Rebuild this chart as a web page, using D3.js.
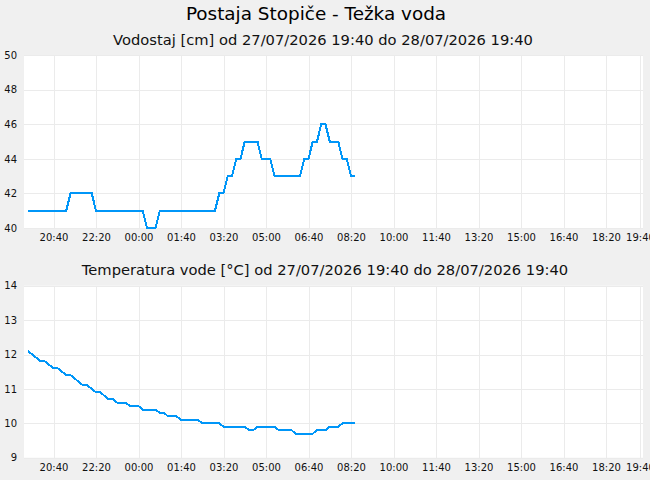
<!DOCTYPE html>
<html>
<head>
<meta charset="utf-8">
<script src="https://cdn.jsdelivr.net/npm/d3@7"></script>
<style>
  body { margin: 0; background: #f0f0f0; }
  svg { display: block; font-family: "DejaVu Sans", sans-serif; }
  .grid line { stroke: #ebebeb; stroke-width: 1; shape-rendering: crispEdges; }
  .axis text { fill: #111; font-size: 10px; }
</style>
</head>
<body>
<svg id="chart" width="650" height="480"></svg>
<script>
var stationTitle = "Postaja Stopiče - Težka voda";
var levelTitle = "Vodostaj [cm] od 27/07/2026 19:40 do 28/07/2026 19:40";
var tempTitle = "Temperatura vode [°C] od 27/07/2026 19:40 do 28/07/2026 19:40";

var startTime = "2026-07-27 19:40";
var endTime = "2026-07-28 19:40";
var stepMinutes = 10; // one reading every 10 minutes

// water level [cm]
var levelValues = [
  41, 41, 41, 41, 41, 41, 41, 41, 41, 41,
  42, 42, 42, 42, 42, 42,
  41, 41, 41, 41, 41, 41, 41, 41, 41, 41, 41, 41,
  40, 40, 40,
  41, 41, 41, 41, 41, 41, 41, 41, 41, 41, 41, 41, 41, 41,
  42, 42, 43, 43, 44, 44, 45, 45, 45, 45,
  44, 44, 44,
  43, 43, 43, 43, 43, 43, 43,
  44, 44, 45, 45, 46, 46, 45, 45, 45, 44, 44, 43, 43
];

// water temperature [°C]
var tempValues = [
  12.1, 12.0, 11.9, 11.8, 11.8, 11.7, 11.6, 11.6, 11.5, 11.4,
  11.4, 11.3, 11.2, 11.1, 11.1, 11.0, 10.9, 10.9, 10.8, 10.7,
  10.7, 10.6, 10.6, 10.6, 10.5, 10.5, 10.5, 10.4, 10.4, 10.4,
  10.4, 10.3, 10.3, 10.2, 10.2, 10.2, 10.1, 10.1, 10.1, 10.1,
  10.1, 10.0, 10.0, 10.0, 10.0, 10.0, 9.9, 9.9, 9.9, 9.9,
  9.9, 9.9, 9.8, 9.8, 9.9, 9.9, 9.9, 9.9, 9.9, 9.8,
  9.8, 9.8, 9.8, 9.7, 9.7, 9.7, 9.7, 9.7, 9.8, 9.8,
  9.8, 9.9, 9.9, 9.9, 10.0, 10.0, 10.0, 10.0
];

var levelTicks = [40, 42, 44, 46, 48, 50];
var tempTicks = [9, 10, 11, 12, 13, 14];
var timeTicks = [
  "2026-07-27 20:40", "2026-07-27 22:20", "2026-07-28 00:00", "2026-07-28 01:40",
  "2026-07-28 03:20", "2026-07-28 05:00", "2026-07-28 06:40", "2026-07-28 08:20",
  "2026-07-28 10:00", "2026-07-28 11:40", "2026-07-28 13:20", "2026-07-28 15:00",
  "2026-07-28 16:40", "2026-07-28 18:20", "2026-07-28 19:40"
];

var parse = d3.timeParse("%Y-%m-%d %H:%M");
var t0 = parse(startTime);
var tickDates = timeTicks.map(parse);

var svg = d3.select("#chart");

var x = d3.scaleTime()
  .domain([t0, parse(endTime)])
  .range([28, 640]);

function timeAt(i) {
  return d3.timeMinute.offset(t0, i * stepMinutes);
}

svg.append("text")
  .attr("x", 316).attr("y", 20)
  .attr("text-anchor", "middle")
  .style("font-size", "18.4px")
  .text(stationTitle);

function drawPanel(title, titleX, titleY, top, bottom, values, yTicks) {
  var left = 24, right = 643;
  var y = d3.scaleLinear()
    .domain([yTicks[0], yTicks[yTicks.length - 1]])
    .range([bottom, top]);

  svg.append("text")
    .attr("x", titleX).attr("y", titleY)
    .attr("text-anchor", "middle")
    .style("font-size", "14.7px")
    .style("fill", "#111")
    .text(title);

  svg.append("rect")
    .attr("x", left).attr("y", top)
    .attr("width", right - left).attr("height", bottom - top)
    .attr("fill", "#fff");

  // grid
  svg.append("g")
    .attr("class", "grid")
    .attr("transform", "translate(0," + bottom + ")")
    .call(d3.axisBottom(x).tickValues(tickDates).tickSize(-(bottom - top)).tickFormat(""))
    .call(function(g) { g.select(".domain").remove(); });

  svg.append("g")
    .attr("class", "grid")
    .attr("transform", "translate(" + left + ",0)")
    .call(d3.axisLeft(y).tickValues(yTicks).tickSize(-(right - left)).tickFormat(""))
    .call(function(g) { g.select(".domain").remove(); });

  // axes labels
  svg.append("g")
    .attr("class", "axis")
    .attr("transform", "translate(0," + bottom + ")")
    .call(d3.axisBottom(x).tickValues(tickDates).tickSize(0).tickPadding(6)
      .tickFormat(d3.timeFormat("%H:%M")))
    .call(function(g) { g.select(".domain").remove(); })
    .attr("font-family", null).attr("font-size", null);

  svg.append("g")
    .attr("class", "axis")
    .attr("transform", "translate(" + left + ",0)")
    .call(d3.axisLeft(y).tickValues(yTicks).tickSize(0).tickPadding(7).tickFormat(d3.format("d")))
    .call(function(g) { g.select(".domain").remove(); })
    .attr("font-family", null).attr("font-size", null);

  var line = d3.line()
    .x(function(d, i) { return x(timeAt(i)); })
    .y(function(d) { return y(d); });

  svg.append("path")
    .datum(values)
    .attr("d", line)
    .attr("fill", "none")
    .attr("stroke", "#0096f8")
    .attr("stroke-width", 2)
    .style("shape-rendering", "crispEdges");
}

drawPanel(levelTitle, 323, 45, 55, 228, levelValues, levelTicks);
drawPanel(tempTitle, 325, 275, 285.7, 457.7, tempValues, tempTicks);
</script>
</body>
</html>
